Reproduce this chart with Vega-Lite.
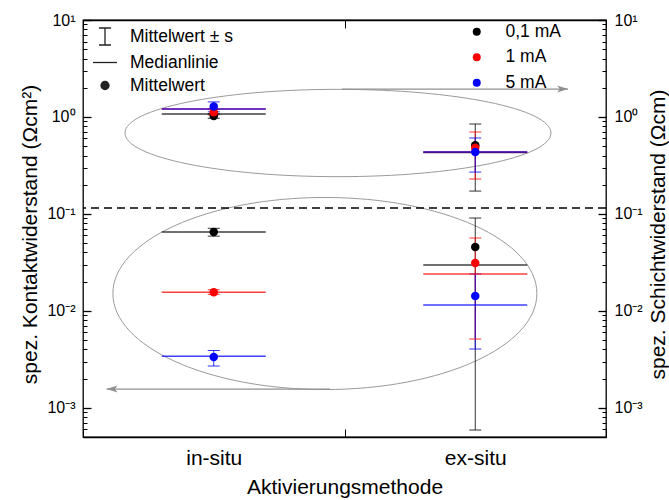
{
  "$schema": "https://vega.github.io/schema/vega-lite/v6.json",
  "width": 523,
  "height": 417,
  "autosize": {"type": "none"},
  "padding": {"left": 83, "top": 20, "right": 63, "bottom": 63},
  "config": {
    "font": "Liberation Sans",
    "view": {"stroke": "#000", "strokeWidth": 1.3},
    "axis": {"domainColor": "#000", "tickColor": "#000", "labelColor": "#000", "titleColor": "#000", "grid": false, "titleFontWeight": "normal", "labelFont": "Liberation Sans", "titleFont": "Liberation Sans"},
    "legend": {"labelFont": "Liberation Sans", "labelFontSize": 17.5, "labelColor": "#000", "padding": 0}
  },
  "datasets": {
    "messwerte": [
      {"methode": "in-situ", "gruppe": "Schicht", "strom": "0,1 mA", "mittel": 1.02, "lo": 0.97, "hi": 1.08, "median": 1.07},
      {"methode": "in-situ", "gruppe": "Schicht", "strom": "1 mA", "mittel": 1.12, "lo": 1.05, "hi": 1.2, "median": 1.21},
      {"methode": "in-situ", "gruppe": "Schicht", "strom": "5 mA", "mittel": 1.28, "lo": 1.13, "hi": 1.43, "median": 1.21},
      {"methode": "in-situ", "gruppe": "Kontakt", "strom": "0,1 mA", "mittel": 0.065, "lo": 0.059, "hi": 0.071, "median": 0.065},
      {"methode": "in-situ", "gruppe": "Kontakt", "strom": "1 mA", "mittel": 0.0156, "lo": 0.0148, "hi": 0.0165, "median": 0.0156},
      {"methode": "in-situ", "gruppe": "Kontakt", "strom": "5 mA", "mittel": 0.00335, "lo": 0.0027, "hi": 0.0039, "median": 0.0034},
      {"methode": "ex-situ", "gruppe": "Schicht", "strom": "0,1 mA", "mittel": 0.51, "lo": 0.172, "hi": 0.846, "median": 0.43},
      {"methode": "ex-situ", "gruppe": "Schicht", "strom": "1 mA", "mittel": 0.48, "lo": 0.229, "hi": 0.7, "median": 0.435},
      {"methode": "ex-situ", "gruppe": "Schicht", "strom": "5 mA", "mittel": 0.435, "lo": 0.27, "hi": 0.607, "median": 0.435},
      {"methode": "ex-situ", "gruppe": "Kontakt", "strom": "0,1 mA", "mittel": 0.0456, "lo": 0.00059, "hi": 0.0907, "median": 0.0297},
      {"methode": "ex-situ", "gruppe": "Kontakt", "strom": "1 mA", "mittel": 0.0312, "lo": 0.00512, "hi": 0.0564, "median": 0.024},
      {"methode": "ex-situ", "gruppe": "Kontakt", "strom": "5 mA", "mittel": 0.0142, "lo": 0.00404, "hi": 0.024, "median": 0.0115}
    ],
    "ellipsen": [
      {"name": "oben", "xpos": 0.975, "wert": 0.683},
      {"name": "unten", "xpos": 0.925, "wert": 0.0151}
    ],
    "pfeile": [
      {"pfeil": "oben", "x_start": 0.99, "x_ende": 1.855, "wert": 1.94},
      {"pfeil": "unten", "x_start": 0.945, "x_ende": 0.09, "wert": 0.00156}
    ],
    "grenze": [{"wert": 0.115}],
    "legende": [
      {"zeichen": "Mittelwert ± s"},
      {"zeichen": "Medianlinie"},
      {"zeichen": "Mittelwert"}
    ]
  },
  "layer": [
    {
      "data": {"name": "ellipsen"},
      "transform": [{"filter": "datum.name === 'oben'"}],
      "mark": {"type": "point", "shape": "M-1,0A1,0.205,0,1,0,1,0A1,0.205,0,1,0,-1,0Z", "size": 181476, "filled": false, "stroke": "#9a9a9a", "strokeWidth": 1, "opacity": 1},
      "encoding": {
        "x": {"field": "xpos", "type": "quantitative", "scale": {"domain": [0, 2], "nice": false, "zero": false}, "axis": null},
        "y": {"field": "wert", "type": "quantitative", "scale": {"type": "log", "domain": [0.0005, 10], "nice": false}, "axis": null}
      }
    },
    {
      "data": {"name": "ellipsen"},
      "transform": [{"filter": "datum.name === 'unten'"}],
      "mark": {"type": "point", "shape": "M-1,0A1,0.453,0,1,0,1,0A1,0.453,0,1,0,-1,0Z", "size": 179776, "filled": false, "stroke": "#9a9a9a", "strokeWidth": 1, "opacity": 1},
      "encoding": {
        "x": {"field": "xpos", "type": "quantitative", "scale": {"domain": [0, 2], "nice": false, "zero": false}, "axis": null},
        "y": {"field": "wert", "type": "quantitative", "scale": {"type": "log", "domain": [0.0005, 10], "nice": false}, "axis": null}
      }
    },
    {
      "data": {"name": "pfeile"},
      "mark": {"type": "rule", "stroke": "#909090", "strokeWidth": 1.2},
      "encoding": {
        "x": {"field": "x_start", "type": "quantitative", "scale": {"domain": [0, 2], "nice": false, "zero": false}, "axis": null},
        "x2": {"field": "x_ende"},
        "y": {"field": "wert", "type": "quantitative", "scale": {"type": "log", "domain": [0.0005, 10], "nice": false}, "axis": null}
      }
    },
    {
      "data": {"name": "pfeile"},
      "transform": [{"filter": "datum.pfeil === 'oben'"}],
      "mark": {"type": "point", "shape": "M0,0L-1,-0.32L-0.75,0L-1,0.32Z", "size": 484, "filled": true, "fill": "#909090", "stroke": null, "opacity": 1},
      "encoding": {
        "x": {"field": "x_ende", "type": "quantitative", "scale": {"domain": [0, 2], "nice": false, "zero": false}, "axis": null},
        "y": {"field": "wert", "type": "quantitative", "scale": {"type": "log", "domain": [0.0005, 10], "nice": false}, "axis": null}
      }
    },
    {
      "data": {"name": "pfeile"},
      "transform": [{"filter": "datum.pfeil === 'unten'"}],
      "mark": {"type": "point", "shape": "M0,0L1,-0.32L0.75,0L1,0.32Z", "size": 484, "filled": true, "fill": "#909090", "stroke": null, "opacity": 1},
      "encoding": {
        "x": {"field": "x_ende", "type": "quantitative", "scale": {"domain": [0, 2], "nice": false, "zero": false}, "axis": null},
        "y": {"field": "wert", "type": "quantitative", "scale": {"type": "log", "domain": [0.0005, 10], "nice": false}, "axis": null}
      }
    },
    {
      "data": {"name": "grenze"},
      "mark": {"type": "rule", "stroke": "#000", "strokeWidth": 1.5, "strokeDash": [8, 5]},
      "encoding": {
        "y": {"field": "wert", "type": "quantitative", "scale": {"type": "log", "domain": [0.0005, 10], "nice": false}, "axis": null}
      }
    },
    {
      "data": {"name": "messwerte"},
      "mark": {"type": "rule", "strokeWidth": 1, "opacity": 0.8},
      "encoding": {
        "x": {"field": "methode", "type": "nominal", "sort": ["in-situ", "ex-situ"], "scale": {"domain": ["in-situ", "ex-situ"], "paddingInner": 0, "paddingOuter": 0},
          "axis": {"orient": "bottom", "title": "Aktivierungsmethode", "titleFontSize": 21, "titleY": 50, "titleBaseline": "middle", "labelFontSize": 21, "labelAngle": 0, "tickBand": "extent", "ticks": true, "tickSize": -8, "tickWidth": 1, "labelPadding": 18, "domainWidth": 1.5}},
        "y": {"field": "lo", "type": "quantitative", "scale": {"type": "log", "domain": [0.0005, 10], "nice": false},
          "axis": {"orient": "left", "offset": -8, "values": [0.001, 0.01, 0.1, 1, 10], "labelExpr": "datum.value > 5 ? '10¹' : datum.value > 0.5 ? '10⁰' : datum.value > 0.05 ? '10⁻¹' : datum.value > 0.005 ? '10⁻²' : '10⁻³'", "ticks": true, "tickColor": "#000000", "tickOpacity": 1, "tickSize": 8, "tickWidth": 1.3, "labelPadding": 8, "labelFontSize": 16, "domain": false, "title": "spez. Kontaktwiderstand (Ωcm²)", "titleFontSize": 21, "titleX": -61, "titleY": 214, "titleAngle": 270, "titleAlign": "center", "titleBaseline": "middle", "zindex": 2}},
        "y2": {"field": "hi"},
        "color": {"field": "strom", "type": "nominal", "scale": {"domain": ["0,1 mA", "1 mA", "5 mA"], "range": ["#000000", "#ff0000", "#0000ff"]}, "legend": null}
      }
    },
    {
      "data": {"name": "messwerte"},
      "mark": {"type": "tick", "size": 12, "thickness": 1, "opacity": 0.8},
      "encoding": {
        "x": {"field": "methode", "type": "nominal", "sort": ["in-situ", "ex-situ"], "scale": {"domain": ["in-situ", "ex-situ"], "paddingInner": 0, "paddingOuter": 0}, "axis": null},
        "y": {"field": "lo", "type": "quantitative", "scale": {"type": "log", "domain": [0.0005, 10], "nice": false},
          "axis": {"orient": "left", "offset": -4, "values": [0.0006, 0.0007, 0.0008, 0.0009, 0.002, 0.003, 0.004, 0.005, 0.006, 0.007, 0.008, 0.009, 0.02, 0.03, 0.04, 0.05, 0.06, 0.07, 0.08, 0.09, 0.2, 0.3, 0.4, 0.5, 0.6, 0.7, 0.8, 0.9, 2, 3, 4, 5, 6, 7, 8, 9], "labels": false, "ticks": true, "tickColor": "#000000", "tickOpacity": 1, "tickSize": 4, "tickWidth": 1, "domain": false, "title": null, "zindex": 2}},
        "color": {"field": "strom", "type": "nominal", "scale": {"domain": ["0,1 mA", "1 mA", "5 mA"], "range": ["#000000", "#ff0000", "#0000ff"]}, "legend": null}
      }
    },
    {
      "data": {"name": "messwerte"},
      "mark": {"type": "tick", "size": 12, "thickness": 1, "opacity": 0.8},
      "encoding": {
        "x": {"field": "methode", "type": "nominal", "sort": ["in-situ", "ex-situ"], "scale": {"domain": ["in-situ", "ex-situ"], "paddingInner": 0, "paddingOuter": 0},
          "axis": {"orient": "top", "labels": false, "tickBand": "extent", "ticks": true, "tickSize": -8, "tickWidth": 1, "title": null, "domainWidth": 1.3}},
        "y": {"field": "hi", "type": "quantitative", "scale": {"type": "log", "domain": [0.0005, 10], "nice": false},
          "axis": {"orient": "right", "offset": -8, "values": [0.001, 0.01, 0.1, 1, 10], "labelExpr": "datum.value > 5 ? '10¹' : datum.value > 0.5 ? '10⁰' : datum.value > 0.05 ? '10⁻¹' : datum.value > 0.005 ? '10⁻²' : '10⁻³'", "ticks": true, "tickColor": "#000000", "tickOpacity": 1, "tickSize": 8, "tickWidth": 1.3, "labelPadding": 8, "labelFontSize": 16, "domain": false, "title": "spez. Schichtwiderstand (Ωcm)", "titleFontSize": 21, "titleX": 60, "titleY": 214, "titleAngle": 270, "titleAlign": "center", "titleBaseline": "middle", "zindex": 2}},
        "color": {"field": "strom", "type": "nominal", "scale": {"domain": ["0,1 mA", "1 mA", "5 mA"], "range": ["#000000", "#ff0000", "#0000ff"]}, "legend": null}
      }
    },
    {
      "data": {"name": "messwerte"},
      "mark": {"type": "tick", "size": 104, "thickness": 1.5, "opacity": 0.75},
      "encoding": {
        "x": {"field": "methode", "type": "nominal", "sort": ["in-situ", "ex-situ"], "scale": {"domain": ["in-situ", "ex-situ"], "paddingInner": 0, "paddingOuter": 0}, "axis": null},
        "y": {"field": "median", "type": "quantitative", "scale": {"type": "log", "domain": [0.0005, 10], "nice": false},
          "axis": {"orient": "right", "offset": -4, "values": [0.0006, 0.0007, 0.0008, 0.0009, 0.002, 0.003, 0.004, 0.005, 0.006, 0.007, 0.008, 0.009, 0.02, 0.03, 0.04, 0.05, 0.06, 0.07, 0.08, 0.09, 0.2, 0.3, 0.4, 0.5, 0.6, 0.7, 0.8, 0.9, 2, 3, 4, 5, 6, 7, 8, 9], "labels": false, "ticks": true, "tickColor": "#000000", "tickOpacity": 1, "tickSize": 4, "tickWidth": 1, "domain": false, "title": null, "zindex": 2}},
        "color": {"field": "strom", "type": "nominal", "scale": {"domain": ["0,1 mA", "1 mA", "5 mA"], "range": ["#000000", "#ff0000", "#0000ff"]}, "legend": null}
      }
    },
    {
      "data": {"name": "messwerte"},
      "mark": {"type": "point", "shape": "circle", "filled": true, "size": 72, "opacity": 1},
      "encoding": {
        "x": {"field": "methode", "type": "nominal", "sort": ["in-situ", "ex-situ"], "scale": {"domain": ["in-situ", "ex-situ"], "paddingInner": 0, "paddingOuter": 0}, "axis": null},
        "y": {"field": "mittel", "type": "quantitative", "scale": {"type": "log", "domain": [0.0005, 10], "nice": false}, "axis": null},
        "color": {"field": "strom", "type": "nominal", "scale": {"domain": ["0,1 mA", "1 mA", "5 mA"], "range": ["#000000", "#ff0000", "#0000ff"]},
          "legend": {"orient": "none", "legendX": 385, "legendY": 3, "title": null, "symbolType": "circle", "symbolSize": 64, "symbolStrokeWidth": 0, "labelFontSize": 17.5, "labelOffset": 20, "rowPadding": 6.5}}
      }
    },
    {
      "data": {"name": "legende"},
      "mark": {"type": "point", "filled": false, "color": "#222", "strokeWidth": 1.2, "opacity": 0},
      "encoding": {
        "shape": {"field": "zeichen", "type": "nominal",
          "scale": {"domain": ["Mittelwert ± s", "Medianlinie", "Mittelwert"], "range": ["M-0.6,-0.85L0.6,-0.85M0,-0.85L0,0.85M-0.6,0.85L0.6,0.85", "M-1.2,0L1.2,0", "M-0.4,0A0.4,0.4,0,1,0,0.4,0A0.4,0.4,0,1,0,-0.4,0M-0.3,0A0.3,0.3,0,1,0,0.3,0A0.3,0.3,0,1,0,-0.3,0M-0.2,0A0.2,0.2,0,1,0,0.2,0A0.2,0.2,0,1,0,-0.2,0M-0.1,0A0.1,0.1,0,1,0,0.1,0A0.1,0.1,0,1,0,-0.1,0M-0.05,0L0.05,0M0,-0.05L0,0.05"]},
          "legend": {"orient": "none", "legendX": 11, "legendY": 5.5, "title": null, "symbolSize": 400, "symbolOpacity": 1, "symbolStrokeWidth": 1.3, "symbolStrokeColor": "#222", "labelFontSize": 17.5, "labelOffset": 14, "rowPadding": 3}}
      }
    }
  ],
  "resolve": {"scale": {"x": "independent"}, "axis": {"x": "independent", "y": "independent"}, "legend": {"color": "independent", "shape": "independent"}}
}
